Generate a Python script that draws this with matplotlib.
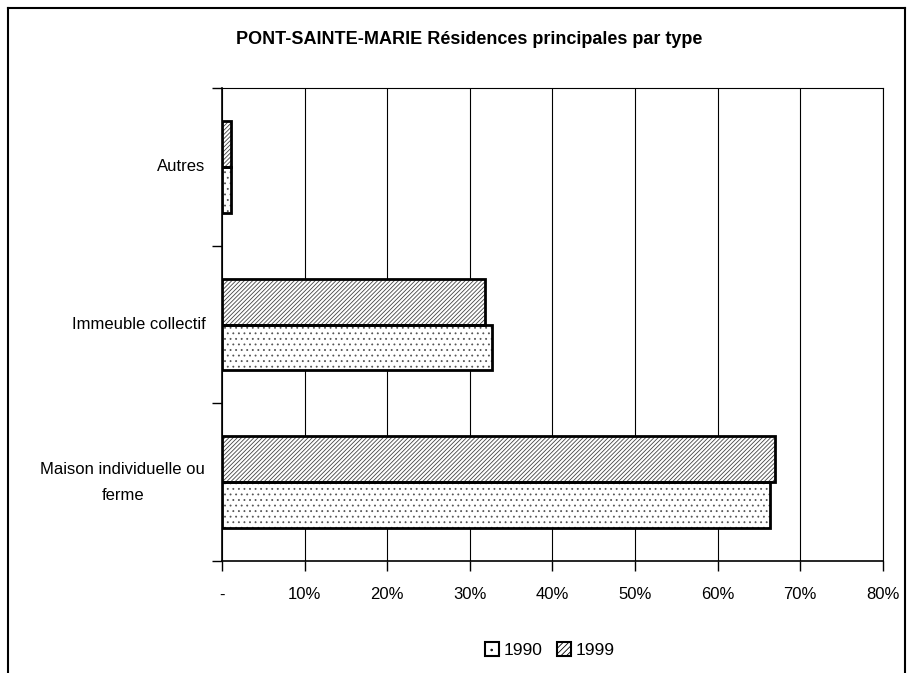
import matplotlib
matplotlib.use("Agg")
import matplotlib.pyplot as plt
from matplotlib.lines import Line2D
from matplotlib.patches import Patch
from matplotlib.ticker import FixedLocator

plt.rcParams['font.family'] = ['Liberation Sans', 'DejaVu Sans']
plt.rcParams['hatch.linewidth'] = 0.6

# données
categories = ['Maison individuelle ou\nferme', 'Immeuble collectif', 'Autres']
val_1990 = [66.3, 32.7, 1.1]
val_1999 = [67.0, 31.9, 1.1]
xticks = [0, 10, 20, 30, 40, 50, 60, 70, 80]
xlabels = ['-', '10%', '20%', '30%', '40%', '50%', '60%', '70%', '80%']

fig = plt.figure(figsize=(9.12, 6.73), dpi=100)
ax = fig.add_axes([0.2434, 0.1664, 0.7245, 0.7028])

h = 0.29
pos = list(range(len(categories)))
y90 = [p - h / 2 for p in pos]
y99 = [p + h / 2 for p in pos]

# hachures grises puis contour noir
ax.barh(y90, val_1990, height=h, color='white', edgecolor='#555555',
        linewidth=0, hatch='...', zorder=3)
ax.barh(y99, val_1999, height=h, color='white', edgecolor='#444444',
        linewidth=0, hatch='////////', zorder=3)
ax.barh(y90, val_1990, height=h, fill=False, edgecolor='black', linewidth=2, zorder=4)
ax.barh(y99, val_1999, height=h, fill=False, edgecolor='black', linewidth=2, zorder=4)

ax.set_xlim(0, 80)
ax.set_ylim(-0.5, 2.5)
ax.set_xticks(xticks)
ax.set_xticklabels(xlabels, fontsize=12)
ax.set_yticks(pos)
ax.set_yticklabels(categories, fontsize=12, multialignment='center', linespacing=1.9)
for lab in ax.get_yticklabels():
    lab.set_va('center')
ax.tick_params(axis='y', length=0, pad=12)
ax.yaxis.set_minor_locator(FixedLocator([-0.5, 0.5, 1.5, 2.5]))
ax.tick_params(axis='y', which='minor', length=7, width=1, color='black')
ax.tick_params(axis='x', length=7, width=1, pad=12)
ax.grid(axis='x', color='black', linewidth=0.8, zorder=0)
for side in ['top', 'right']:
    ax.spines[side].set_linewidth(0.8)
for side in ['left', 'bottom']:
    ax.spines[side].set_linewidth(1.2)
ax.set_axisbelow(True)

fig.text(0.515, 0.942, 'PONT-SAINTE-MARIE Résidences principales par type',
         ha='center', va='center', fontsize=13, fontweight='bold')

handles = [Patch(facecolor='white', edgecolor='black', hatch='..', linewidth=1.5, label='1990'),
           Patch(facecolor='white', edgecolor='black', hatch='//////', linewidth=1.5, label='1999')]
fig.legend(handles=handles, loc='center', bbox_to_anchor=(0.603, 0.034), ncol=2,
           frameon=False, fontsize=12.5, handlelength=0.8, handleheight=0.8,
           handletextpad=0.3, columnspacing=0.8)

# cadre
fig.add_artist(Line2D([0.009, 0.009], [0, 0.988], color='black', linewidth=1.5))
fig.add_artist(Line2D([0.009, 0.992], [0.988, 0.988], color='black', linewidth=1.5))
fig.add_artist(Line2D([0.992, 0.992], [0, 0.988], color='black', linewidth=1.5))

fig.savefig('out.png', dpi=100)
